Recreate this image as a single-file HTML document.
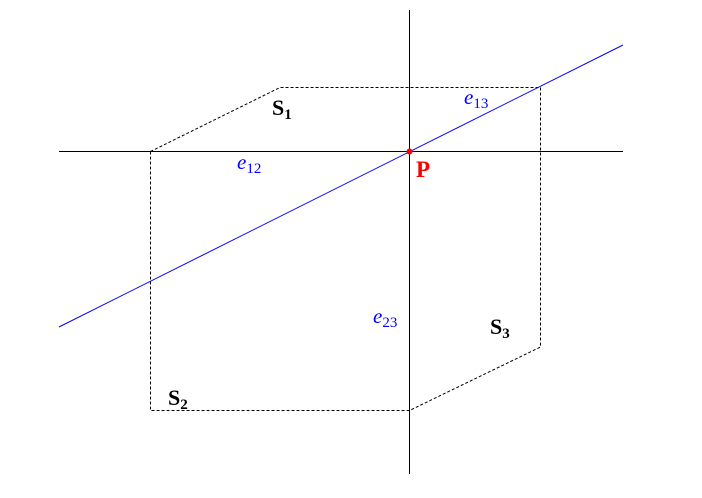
<!DOCTYPE html>
<html><head><meta charset="utf-8"><style>
html,body{margin:0;padding:0;background:#fff;}
svg{display:block;}
text{font-family:"Liberation Serif",serif;}
</style></head><body>
<svg width="702" height="498" viewBox="0 0 702 498" xmlns="http://www.w3.org/2000/svg">
<line x1="59" y1="151.5" x2="623" y2="151.5" stroke="#000" stroke-width="1"/>
<line x1="409.5" y1="10" x2="409.5" y2="474" stroke="#000" stroke-width="1"/>
<polygon points="150.5,151.5 280,87.5 540.5,87.5 540.5,347 409.5,410.5 150.5,410.5" fill="none" stroke="#000" stroke-width="1" stroke-dasharray="3,2"/>
<line x1="59" y1="327" x2="623" y2="45" stroke="#0000ff" stroke-width="1"/>
<circle cx="409.5" cy="151.5" r="3" fill="#ff0000"/>
<text x="272" y="115" font-size="22" font-weight="bold">S<tspan font-size="15" dy="4">1</tspan></text>
<text x="490" y="334" font-size="22" font-weight="bold">S<tspan font-size="15" dy="4">3</tspan></text>
<text x="168" y="405" font-size="22" font-weight="bold">S<tspan font-size="15" dy="4">2</tspan></text>
<text x="416" y="177" font-size="23" font-weight="bold" fill="#ff0000">P</text>
<text x="464" y="104" font-size="21" font-style="italic" fill="#0000ff">e<tspan font-size="15" font-style="normal" dy="4">13</tspan></text>
<text x="237" y="169" font-size="21" font-style="italic" fill="#0000ff">e<tspan font-size="15" font-style="normal" dy="4">12</tspan></text>
<text x="373" y="323" font-size="21" font-style="italic" fill="#0000ff">e<tspan font-size="15" font-style="normal" dy="4">23</tspan></text>
</svg>
</body></html>
